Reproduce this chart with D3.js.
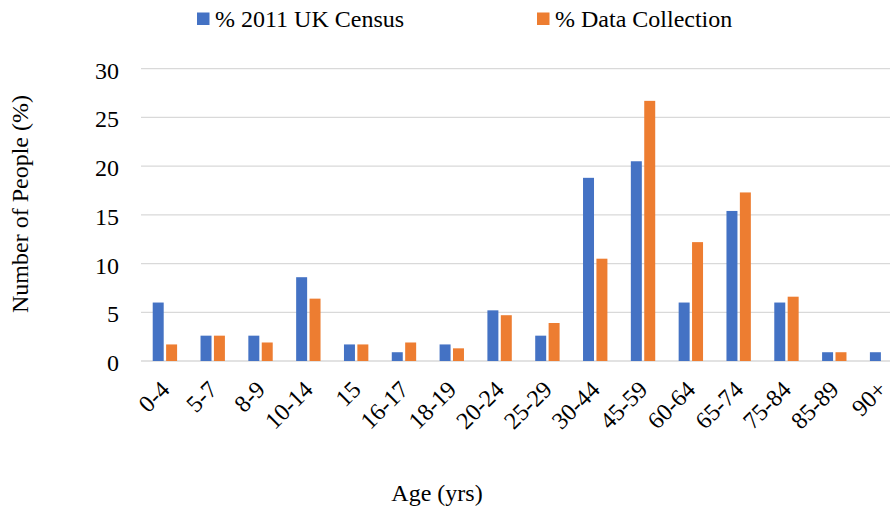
<!DOCTYPE html>
<html>
<head>
<meta charset="utf-8">
<script src="https://cdn.jsdelivr.net/npm/d3@7"></script>
<style>
body { margin: 0; background: #fff; overflow: hidden; }
text { font-family: "Liberation Serif", "Times New Roman", serif; fill: #000; font-size: 24px; }
</style>
</head>
<body>
<svg id="chart" width="896" height="511"></svg>
<script>
const categories = ["0-4","5-7","8-9","10-14","15","16-17","18-19","20-24","25-29","30-44","45-59","60-64","65-74","75-84","85-89","90+"];
const census = [6.0,2.6,2.6,8.6,1.7,0.9,1.7,5.2,2.6,18.8,20.5,6.0,15.4,6.0,0.9,0.9];
const collection = [1.7,2.6,1.9,6.4,1.7,1.9,1.3,4.7,3.9,10.5,26.7,12.2,17.3,6.6,0.9,0];
const seriesNames = ["% 2011 UK Census","% Data Collection"];
const colors = ["#4472C4","#ED7D31"];
const yTicks = [0,5,10,15,20,25,30];

const svg = d3.select("#chart");
const plotLeft = 141, plotRight = 906, gridRight = 890, plotTop = 68.7, plotBottom = 361;

const x = d3.scaleBand().domain(categories).range([plotLeft, plotRight]).paddingInner(0.49).paddingOuter(0.245);
const xs = d3.scaleBand().domain([0,1]).range([0, x.bandwidth()]).paddingInner(0.18);
const y = d3.scaleLinear().domain([0,30]).range([plotBottom, plotTop]);

// gridlines
svg.append("g").selectAll("line").data(yTicks).join("line")
  .attr("x1", plotLeft).attr("x2", gridRight)
  .attr("y1", d => y(d)).attr("y2", d => y(d))
  .attr("stroke", "#d9d9d9").attr("stroke-width", 1.3);

// y labels
svg.append("g").selectAll("text").data(yTicks).join("text")
  .attr("x", 119).attr("y", d => y(d)).attr("dy", "0.42em")
  .attr("text-anchor", "end").text(d => d);

// bars
const data = categories.map((c, i) => ({c, v: [census[i], collection[i]]}));
const g = svg.append("g");
data.forEach(d => {
  d.v.forEach((v, k) => {
    if (v <= 0) return;
    g.append("rect")
      .attr("x", x(d.c) + xs(k)).attr("width", xs.bandwidth())
      .attr("y", y(v)).attr("height", y(0) - y(v))
      .attr("fill", colors[k]);
  });
});

// x labels
svg.append("g").selectAll("text").data(categories).join("text")
  .attr("transform", d => `translate(${x(d) + x.bandwidth()/2 + 6},${391}) rotate(-45)`)
  .attr("text-anchor", "end")
  .text(d => d);

// axis titles
svg.append("text").attr("transform", "translate(28,204) rotate(-90)")
  .attr("text-anchor", "middle").text("Number of People (%)");
svg.append("text").attr("x", 437).attr("y", 501)
  .attr("text-anchor", "middle").text("Age (yrs)");

// legend
const legendX = [197, 537];
seriesNames.forEach((n, k) => {
  svg.append("rect").attr("x", legendX[k]).attr("y", 12.5).attr("width", 12.5).attr("height", 12.5).attr("fill", colors[k]);
  svg.append("text").attr("x", legendX[k] + 18).attr("y", 26.5).text(n);
});
</script>
</body>
</html>
